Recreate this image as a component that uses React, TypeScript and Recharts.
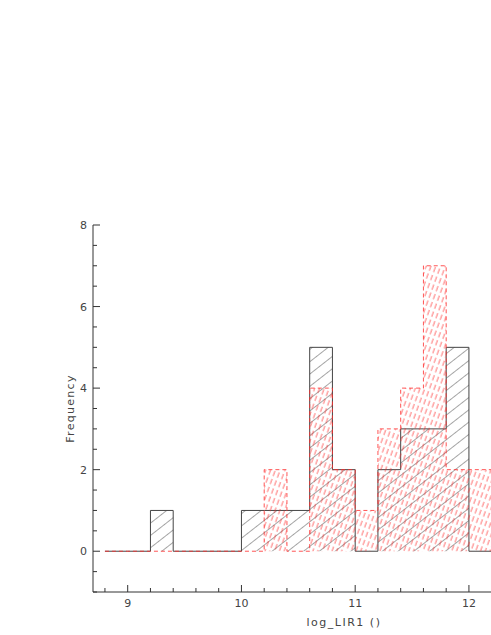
import { Area, ComposedChart, XAxis, YAxis } from "recharts";

// Histogram bins (left edges, width 0.2).
const binStarts = [8.8, 9.0, 9.2, 9.4, 9.6, 9.8, 10.0, 10.2, 10.4, 10.6, 10.8, 11.0, 11.2, 11.4, 11.6, 11.8, 12.0, 12.2];
const blackCounts = [0, 0, 1, 0, 0, 0, 1, 1, 1, 5, 2, 0, 2, 3, 3, 5, 0, 0];
const redCounts = [0, 0, 0, 0, 0, 0, 0, 2, 0, 4, 2, 1, 3, 4, 7, 2, 2, 0];

const xTicks = [8.8, 9.0, 9.2, 9.4, 9.6, 9.8, 10.0, 10.2, 10.4, 10.6, 10.8, 11.0, 11.2, 11.4, 11.6, 11.8, 12.0];
const xLabelled = [9, 10, 11, 12];
const yTicks = [-1, -0.5, 0, 0.5, 1, 1.5, 2, 2.5, 3, 3.5, 4, 4.5, 5, 5.5, 6, 6.5, 7, 7.5, 8];
const yLabelled = [0, 2, 4, 6, 8];

const AXIS = "#333";
const TEXT = "#444";
const RED = "#ff2a2a";
const FONT = "'DejaVu Sans', sans-serif";

const rows = binStarts.map((x, i) => ({ x, black: blackCounts[i], red: redCounts[i] }));

const isLabelled = (list: number[], v: number) => list.some((t) => Math.abs(t - v) < 1e-6);

function BottomTick({ x, y, payload }: any) {
  const major = isLabelled(xLabelled, payload.value);
  return (
    <g>
      <line x1={x} x2={x} y1={y} y2={y - (major ? 7 : 4)} stroke={AXIS} />
      {major && (
        <text x={x} y={y + 15} textAnchor="middle" fontSize={11} fill={TEXT} fontFamily={FONT}>
          {Math.round(payload.value)}
        </text>
      )}
    </g>
  );
}

function TopTick({ x, y, payload }: any) {
  const major = isLabelled(xLabelled, payload.value);
  return <line x1={x} x2={x} y1={y} y2={y + (major ? 7 : 4)} stroke={AXIS} />;
}

function LeftTick({ x, y, payload }: any) {
  const major = isLabelled(yLabelled, payload.value);
  return (
    <g>
      <line x1={x} x2={x + (major ? 7 : 4)} y1={y} y2={y} stroke={AXIS} />
      {major && (
        <text x={x - 6} y={y + 4} textAnchor="end" fontSize={11} fill={TEXT} fontFamily={FONT}>
          {payload.value}
        </text>
      )}
    </g>
  );
}

export default function App() {
  return (
    <div style={{ position: "absolute", left: 0, top: 0, width: 491, height: 635, overflow: "hidden", background: "#fff" }}>
      <ComposedChart width={491} height={635} data={rows} margin={{ top: 225, right: 0, bottom: 0, left: 0 }}>
        <defs>
          <pattern id="hatchBlack" patternUnits="userSpaceOnUse" width="9.7" height="9.7" patternTransform="rotate(52)">
            <line x1="0" y1="0" x2="0" y2="9.7" stroke="#3a3a3a" strokeWidth="0.9" />
          </pattern>
          <pattern id="hatchRed" patternUnits="userSpaceOnUse" width="4.5" height="8.5" patternTransform="rotate(20)">
            <line x1="1" y1="0" x2="1" y2="5.5" stroke={RED} strokeWidth="0.9" strokeOpacity="0.75" />
          </pattern>
        </defs>
        <XAxis
          dataKey="x"
          type="number"
          domain={[8.695, 12.194]}
          allowDataOverflow
          ticks={xTicks}
          interval={0}
          height={43}
          tickSize={0}
          tickMargin={0}
          tickLine={false}
          axisLine={{ stroke: AXIS }}
          tick={<BottomTick />}
          label={({ viewBox }: any) => (
            <text
              x={viewBox.x + 251}
              y={viewBox.y + 34}
              textAnchor="middle"
              fontSize={11}
              letterSpacing={1.5}
              fill={TEXT}
              fontFamily={FONT}
            >
              log_LIR1 ()
            </text>
          )}
        />
        <XAxis
          xAxisId="top"
          orientation="top"
          dataKey="x"
          type="number"
          domain={[8.695, 12.194]}
          allowDataOverflow
          ticks={xTicks}
          interval={0}
          height={0}
          tickSize={0}
          tickMargin={0}
          tickLine={false}
          axisLine={{ stroke: AXIS }}
          tick={<TopTick />}
        />
        <YAxis
          type="number"
          domain={[-1, 8]}
          allowDataOverflow
          ticks={yTicks}
          interval={0}
          width={93}
          tickSize={0}
          tickMargin={0}
          tickLine={false}
          axisLine={{ stroke: AXIS }}
          tick={<LeftTick />}
          label={({ viewBox }: any) => {
            const cx = viewBox.x + 70;
            const cy = viewBox.y + viewBox.height / 2;
            return (
              <text
                x={cx}
                y={cy}
                transform={`rotate(-90 ${cx} ${cy})`}
                textAnchor="middle"
                dominantBaseline="central"
                fontSize={11}
                letterSpacing={1.3}
                fill={TEXT}
                fontFamily={FONT}
              >
                Frequency
              </text>
            );
          }}
        />
        <Area
          dataKey="black"
          type="stepAfter"
          baseValue={0}
          stroke="#444"
          strokeWidth={1}
          fill="url(#hatchBlack)"
          fillOpacity={1}
          dot={false}
          activeDot={false}
          isAnimationActive={false}
        />
        <Area
          dataKey="red"
          type="stepAfter"
          baseValue={0}
          stroke={RED}
          strokeOpacity={0.8}
          strokeWidth={1}
          strokeDasharray="4 3"
          fill="url(#hatchRed)"
          fillOpacity={1}
          dot={false}
          activeDot={false}
          isAnimationActive={false}
        />
      </ComposedChart>
    </div>
  );
}
